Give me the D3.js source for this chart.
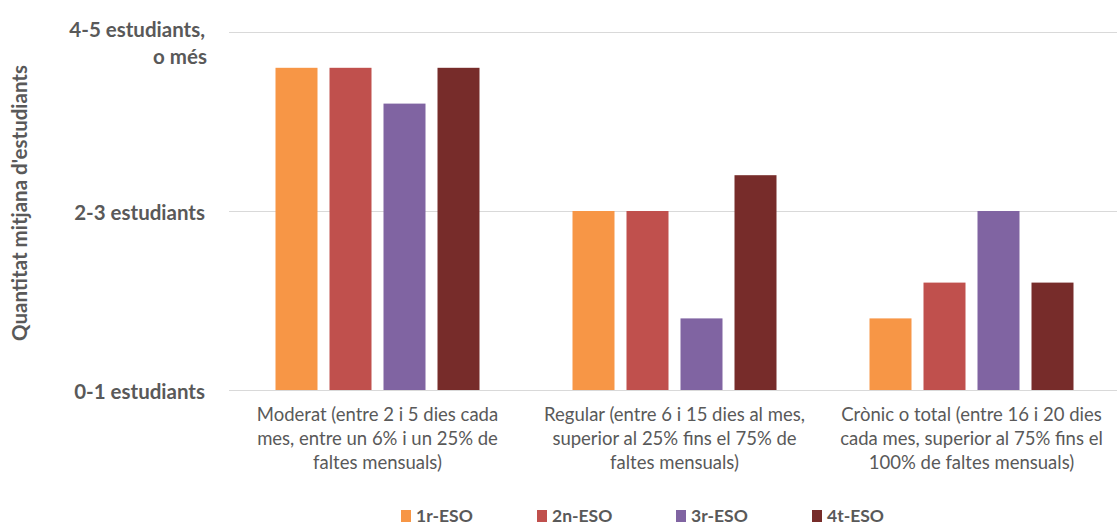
<!DOCTYPE html>
<html>
<head>
<meta charset="utf-8">
<script src="https://cdn.jsdelivr.net/npm/d3@7"></script>
<style>
  html, body { margin: 0; padding: 0; background: #fff; }
  svg { display: block; font-family: Lato, "Open Sans", sans-serif; }
</style>
</head>
<body>
<svg id="chart" width="1117" height="525"></svg>
<script>
// Absentee levels (categories), each label split into lines
const categories = ["Moderat", "Regular", "Crònic"];
const categoryLines = [
  ["Moderat (entre 2 i 5 dies cada", "mes, entre un 6% i un 25% de", "faltes mensuals)"],
  ["Regular (entre 6 i 15 dies al mes,", "superior al 25% fins el 75% de", "faltes mensuals)"],
  ["Crònic o total (entre 16 i 20 dies", "cada mes, superior al 75% fins el", "100% de faltes mensuals)"]
];
const seriesNames = ["1r-ESO", "2n-ESO", "3r-ESO", "4t-ESO"];
const colors = ["#F79646", "#C0504D", "#8064A2", "#772C2A"];

// Average number of students per level, one array per course
const v1r = [1.8, 1.0, 0.4];
const v2n = [1.8, 1.0, 0.6];
const v3r = [1.6, 0.4, 1.0];
const v4t = [1.8, 1.2, 0.6];
const seriesValues = [v1r, v2n, v3r, v4t];

// Y-axis tick values and labels
const yTicks = [0, 1, 2];
const yTickLabels = [["0-1 estudiants"], ["2-3 estudiants"], ["4-5 estudiants,", "o més"]];

const svg = d3.select("#chart");
const plotLeft = 229, plotRight = 1120, plotTop = 32, plotBottom = 390;
const groupWidth = 204;

const x0 = d3.scaleBand().domain(categories).range([plotLeft, plotRight]).paddingInner(0).paddingOuter(0);
const x1 = d3.scaleBand().domain(seriesNames).range([0, groupWidth]).paddingInner(12 / 54).paddingOuter(0);
const y = d3.scaleLinear().domain([0, 2]).range([plotBottom, plotTop]);

// Gridlines
svg.append("g").selectAll("line").data(yTicks).join("line")
  .attr("x1", plotLeft).attr("x2", plotRight)
  .attr("y1", d => y(d) + 0.5).attr("y2", d => y(d) + 0.5)
  .attr("stroke", "#d9d9d9").attr("stroke-width", 1.2);

// Bars
const groups = svg.append("g").selectAll("g").data(categories).join("g")
  .attr("transform", c => `translate(${x0(c) + (x0.bandwidth() - groupWidth) / 2},0)`);
groups.selectAll("rect")
  .data((c, ci) => seriesNames.map((s, si) => ({ s, si, v: seriesValues[si][ci] })))
  .join("rect")
  .attr("x", d => x1(d.s))
  .attr("width", x1.bandwidth())
  .attr("y", d => y(d.v))
  .attr("height", d => y(0) - y(d.v))
  .attr("fill", d => colors[d.si]);

// Y tick labels
const yLab = svg.append("g").attr("fill", "#595959").attr("font-weight", "bold")
  .attr("font-size", 20.5).attr("text-anchor", "end");
yTicks.forEach((t, i) => {
  const lines = yTickLabels[i];
  lines.forEach((ln, li) => {
    yLab.append("text").attr("x", 205 + (li > 0 ? 2 : 0))
      .attr("y", y(t) + 2 - (lines.length > 1 ? 4 : 0) + li * 27)
      .attr("dy", "0.35em").text(ln);
  });
});

// Category labels
const catG = svg.append("g").attr("fill", "#595959").attr("font-size", 18.5).attr("text-anchor", "middle");
categories.forEach((c, ci) => {
  categoryLines[ci].forEach((ln, li) => {
    catG.append("text").attr("x", x0(c) + x0.bandwidth() / 2)
      .attr("y", 415 + li * 24).attr("dy", "0.35em").text(ln);
  });
});

// Y-axis title
svg.append("text")
  .attr("transform", "translate(20,203) rotate(-90)")
  .attr("text-anchor", "middle").attr("dy", "0.35em")
  .attr("fill", "#595959").attr("font-weight", "bold").attr("font-size", 20.5)
  .text("Quantitat mitjana d'estudiants");

// Legend
const legendX = [401, 537, 676, 812];
const leg = svg.append("g").selectAll("g").data(seriesNames).join("g")
  .attr("transform", (d, i) => `translate(${legendX[i]},510)`);
leg.append("rect").attr("width", 10).attr("height", 12).attr("fill", (d, i) => colors[i]);
leg.append("text").attr("x", 15).attr("y", 6).attr("dy", "0.35em")
  .attr("fill", "#595959").attr("font-size", 17.5).attr("font-weight", "bold").text(d => d);
</script>
</body>
</html>
